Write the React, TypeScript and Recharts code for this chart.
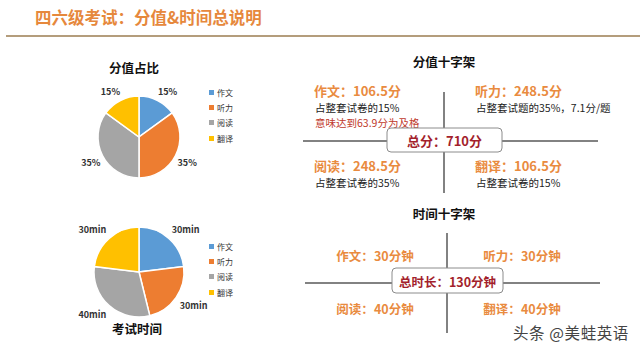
import { Cell, Legend, Pie, PieChart } from "recharts";

const categories = ["作文", "听力", "阅读", "翻译"];
const sliceColors = ["#5b9bd5", "#ed7d31", "#a5a5a5", "#ffc000"];
const scorePercent = [15, 35, 35, 15];
const scorePoints = [106.5, 248.5, 248.5, 106.5];
const scoreNotes = [
    ["占整套试卷的15%", "意味达到63.9分为及格"],
    ["占整套试题的35%，7.1分/题"],
    ["占整套试卷的35%"],
    ["占整套试卷的15%"],
];
const examMinutes = [30, 30, 40, 30]; // pie
const crossMinutes = [30, 30, 40, 40]; // as written in the time cross
const totalScore = 710;
const totalMinutes = 130;

const FONT = '"Noto Sans CJK SC", "Noto Sans", sans-serif';
const ORANGE = "#e98b3f";
const DARK_RED = "#a31f2c";

const scoreData = categories.map((name, i) => ({ name, value: scorePercent[i] }));
const timeData = categories.map((name, i) => ({ name, value: examMinutes[i] }));

const RAD = Math.PI / 180;
// excel-like "outside end": the label box corner sits just past the rim
const outsideLabel = (gap: number, unit: string) => (p: any) => {
    const txt = `${p.value}${unit}`;
    const w = txt.length * 5.4;
    const h = 10;
    const cos = Math.cos(-p.midAngle * RAD);
    const sin = Math.sin(-p.midAngle * RAD);
    const r = p.outerRadius + gap;
    const x = p.cx + r * cos + Math.sign(cos) * w / 2;
    const y = p.cy + r * sin + Math.sign(sin) * h / 2;
    return (
        <text x={x} y={y} textAnchor="middle" dominantBaseline="central" fontSize={9} fontWeight={700} fill="#333" fontFamily={FONT}>
            {txt}
        </text>
    );
};

const SmallLegend = () => (
    <div style={{ fontFamily: FONT, fontSize: 8, color: "#333" }}>
        {categories.map((c, i) => (
            <div key={c} style={{ height: 15.2, display: "flex", alignItems: "center" }}>
                <span style={{ width: 5, height: 5, background: sliceColors[i], marginRight: 3, display: "inline-block" }} />
                {c}
            </div>
        ))}
    </div>
);

// quadrant anchors for the two crosses
const scoreQuad = [
    { x: 314, y: 90 },
    { x: 475, y: 90 },
    { x: 314, y: 165 },
    { x: 475, y: 165 },
];
const timeQuad = [
    { x: 375, y: 255 },
    { x: 522, y: 255 },
    { x: 375, y: 308 },
    { x: 522, y: 308 },
];

const App = () => {
    return (
        <div style={{ position: "absolute", left: 0, top: 0, width: 640, height: 352, background: "#fff", overflow: "hidden", fontFamily: FONT }}>
            <svg width={640} height={352} style={{ position: "absolute", left: 0, top: 0 }} fontFamily={FONT}>
                <text x={35} y={17} dominantBaseline="central" fontSize={16.5} fontWeight={700} fill="#e6883c">
                    四六级考试：分值&amp;时间总说明
                </text>
                <line x1={6} y1={36} x2={640} y2={36} stroke="#b49d7c" strokeWidth={2} />

                {/* pie titles */}
                <text x={134} y={67} textAnchor="middle" dominantBaseline="central" fontSize={12.5} fontWeight={700} fill="#111">分值占比</text>
                <text x={137} y={328} textAnchor="middle" dominantBaseline="central" fontSize={12.5} fontWeight={700} fill="#111">考试时间</text>

                {/* score cross */}
                <text x={444} y={61} textAnchor="middle" dominantBaseline="central" fontSize={12.5} fontWeight={700} fill="#111">分值十字架</text>
                <line x1={444} y1={92} x2={444} y2={193} stroke="#595959" strokeWidth={1.5} />
                <line x1={303} y1={141} x2={598} y2={141} stroke="#595959" strokeWidth={1.5} />
                {scoreQuad.map((q, i) => (
                    <g key={i}>
                        <text x={q.x} y={q.y} dominantBaseline="central" fontSize={13} fontWeight={700} fill={ORANGE}>
                            {categories[i]}：{scorePoints[i]}分
                        </text>
                        {scoreNotes[i].map((n, j) => (
                            <text key={j} x={q.x + 1} y={q.y + 17 + j * 15} dominantBaseline="central" fontSize={10.5} fill={j === 1 ? "#c0392b" : "#222"}>
                                {n}
                            </text>
                        ))}
                    </g>
                ))}
                <rect x={387} y={128} width={115} height={24} rx={4} fill="#fff" stroke="#8c8c8c" strokeWidth={1} />
                <text x={444.5} y={140} textAnchor="middle" dominantBaseline="central" fontSize={13} fontWeight={700} fill={DARK_RED}>
                    总分：{totalScore}分
                </text>

                {/* time cross */}
                <text x={444} y={213} textAnchor="middle" dominantBaseline="central" fontSize={12.5} fontWeight={700} fill="#111">时间十字架</text>
                <line x1={447} y1={233} x2={447} y2={333} stroke="#595959" strokeWidth={1.5} />
                <line x1={305} y1={283} x2={600} y2={283} stroke="#595959" strokeWidth={1.5} />
                {timeQuad.map((q, i) => (
                    <text key={i} x={q.x} y={q.y} textAnchor="middle" dominantBaseline="central" fontSize={12.5} fontWeight={700} fill={ORANGE}>
                        {categories[i]}：{crossMinutes[i]}分钟
                    </text>
                ))}
                <rect x={392} y={268} width={111} height={25} rx={4} fill="#fff" stroke="#8c8c8c" strokeWidth={1} />
                <text x={447.5} y={281} textAnchor="middle" dominantBaseline="central" fontSize={12.5} fontWeight={700} fill={DARK_RED}>
                    总时长：{totalMinutes}分钟
                </text>

                <text x={513} y={332} dominantBaseline="central" fontSize={15.5} letterSpacing={0.6} fill="#444">头条 @美蛙英语</text>
            </svg>

            <div style={{ position: "absolute", left: 34, top: 67 }}>
                <PieChart width={240} height={130}>
                    <Pie
                        data={scoreData}
                        dataKey="value"
                        cx={100}
                        cy={65}
                        outerRadius={41}
                        startAngle={90}
                        endAngle={-270}
                        stroke="#fff"
                        strokeWidth={1.5}
                        labelLine={false}
                        label={outsideLabel(4, "%")}
                        isAnimationActive={false}
                    >
                        {scoreData.map((d, i) => <Cell key={d.name} fill={sliceColors[i]} />)}
                    </Pie>
                    <Legend content={<SmallLegend />} wrapperStyle={{ left: 175, top: 18, width: 40 }} />
                </PieChart>
            </div>

            <div style={{ position: "absolute", left: 34, top: 200 }}>
                <PieChart width={240} height={135}>
                    <Pie
                        data={timeData}
                        dataKey="value"
                        cx={100}
                        cy={67}
                        outerRadius={45}
                        startAngle={90}
                        endAngle={-270}
                        stroke="#fff"
                        strokeWidth={1.5}
                        labelLine={false}
                        label={outsideLabel(5, "min")}
                        isAnimationActive={false}
                    >
                        {timeData.map((d, i) => <Cell key={d.name} fill={sliceColors[i]} />)}
                    </Pie>
                    <Legend content={<SmallLegend />} wrapperStyle={{ left: 175, top: 39, width: 40 }} />
                </PieChart>
            </div>
        </div>
    );
};

export default App;
